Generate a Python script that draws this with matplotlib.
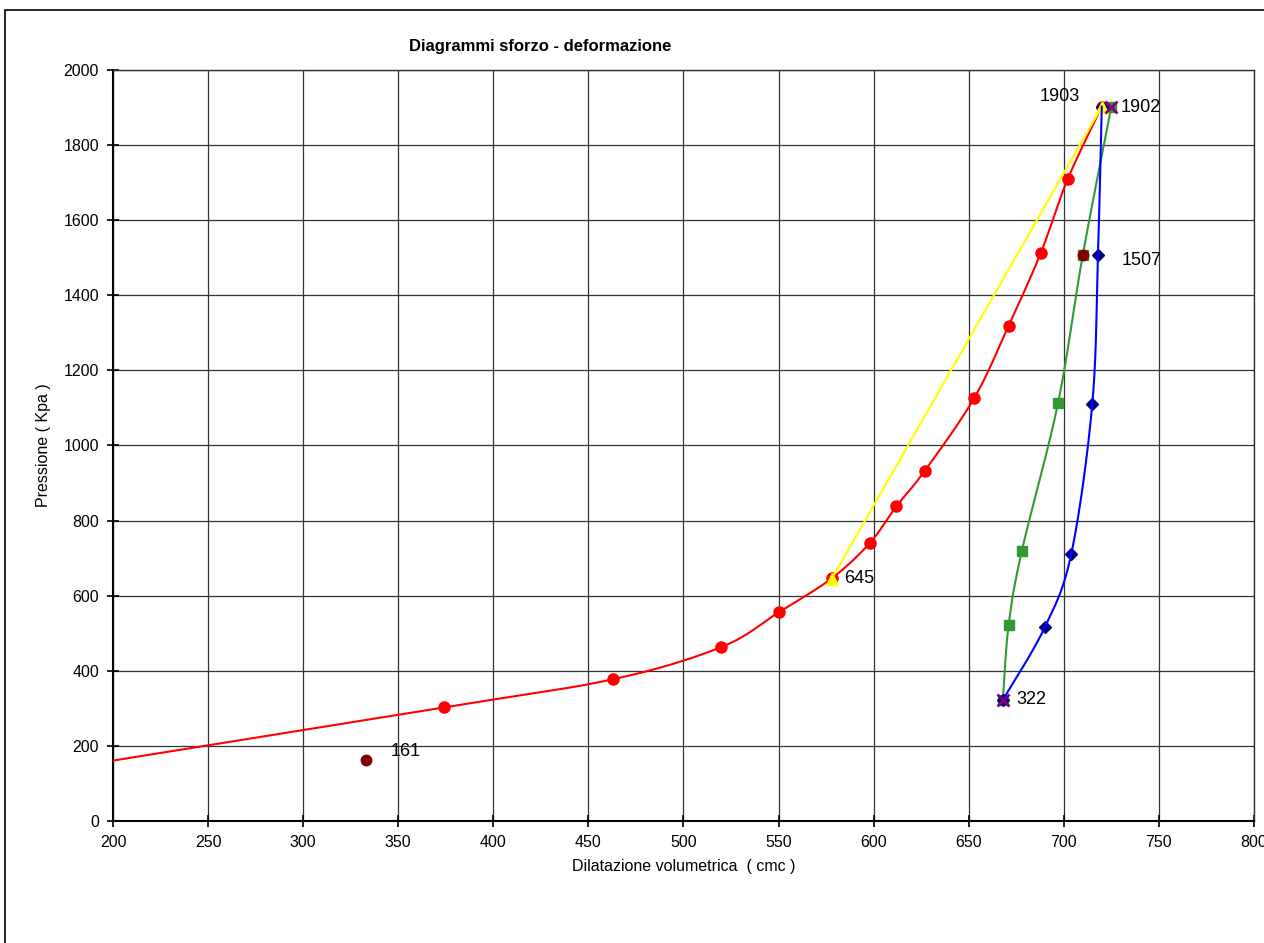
import matplotlib
matplotlib.use("Agg")
import matplotlib.pyplot as plt
import numpy as np
from matplotlib.patches import Rectangle

plt.rcParams['font.family'] = ['Liberation Sans', 'DejaVu Sans']

# red series (loading curve)
red_x = [185, 374, 463, 520, 550, 578, 598, 612, 627, 653, 671, 688, 702, 720]
red_y = [148, 302, 377, 463, 555, 646, 740, 838, 933, 1127, 1319, 1514, 1709, 1903]

# yellow straight segment
yel_x = [578, 720]
yel_y = [645, 1903]

# green series
grn_x = [668, 671, 678, 697, 710, 725]
grn_y = [322, 521, 720, 1113, 1507, 1902]

# blue series
blu_x = [668, 690, 704, 715, 718, 720]
blu_y = [322, 515, 712, 1110, 1507, 1903]

# isolated points
dred_x = [333, 710]
dred_y = [161, 1507]
purp_x = [668, 725]
purp_y = [322, 1902]

labels = [("161", 333, 161), ("645", 578, 645), ("322", 668, 322),
          ("1507", 718, 1507), ("1902", 725, 1902), ("1903", 720, 1903)]
label_offsets = {"161": (18, 6), "645": (9, 0), "322": (10, 0),
                 "1507": (17, -4), "1902": (6.5, 0), "1903": (-45, 7)}


def smooth(xs, ys, n=30):
    # Catmull-Rom, similar to Excel's smoothed line
    p = np.column_stack([xs, ys]).astype(float)
    p = np.vstack([p[0], p, p[-1]])
    out = []
    t = np.linspace(0, 1, n)
    for i in range(1, len(p) - 2):
        p0, p1, p2, p3 = p[i - 1], p[i], p[i + 1], p[i + 2]
        b1 = p1 + (p2 - p0) / 6
        b2 = p2 - (p3 - p1) / 6
        seg = ((1 - t)[:, None] ** 3 * p1 + 3 * ((1 - t) ** 2 * t)[:, None] * b1
               + 3 * ((1 - t) * t ** 2)[:, None] * b2 + (t ** 3)[:, None] * p2)
        out.append(seg)
    out = np.vstack(out)
    return out[:, 0], out[:, 1]


fig = plt.figure(figsize=(12.64, 9.43), dpi=100)
ax = fig.add_axes([0.0894, 0.1297, 0.9026, 0.7958])

fig.patches.append(Rectangle((5 / 1264, -0.05), 1.1, 0.05 + 1 - 10 / 943,
                             transform=fig.transFigure, fill=False,
                             edgecolor='black', linewidth=1.2))

sx, sy = smooth(red_x, red_y)
ax.plot(sx, sy, color='#FF0000', lw=1.5, zorder=3)
ax.plot(red_x, red_y, 'o', color='#FF0000', ms=8, zorder=4)

sx, sy = smooth(grn_x, grn_y)
ax.plot(sx, sy, color='#339933', lw=1.5, zorder=5)
ax.plot(grn_x, grn_y, 's', color='#339933', ms=7.5, zorder=6)

ax.plot(blu_x, blu_y, 'D', color='#000080', ms=6, zorder=7)

ax.plot(yel_x, yel_y, color='#FFFF00', lw=1.5, zorder=7.5)
ax.plot(yel_x, yel_y, '^', color='#FFFF00', ms=9, zorder=8)

sx, sy = smooth(blu_x, blu_y)
ax.plot(sx, sy, color='#0000FF', lw=1.5, zorder=8.5)

ax.plot(dred_x, dred_y, 'o', color='#800000', ms=7.5, zorder=9)
ax.plot(purp_x, purp_y, 'x', color='#800080', ms=8, mew=2, zorder=10)

for txt, x, y in labels:
    dx, dy = label_offsets[txt]
    ax.annotate(txt, (x, y), xytext=(dx, dy), textcoords='offset points',
                fontsize=13, ha='left', va='center', zorder=11)

ax.set_xlim(200, 800)
ax.set_ylim(0, 2000)
ax.set_xticks(np.arange(200, 801, 50))
ax.set_yticks(np.arange(0, 2001, 200))
ax.grid(True, color='#333333', linewidth=0.9)
ax.set_axisbelow(True)
ax.tick_params(direction='inout', length=8, width=1.2, labelsize=11.5, pad=6)
for s in ax.spines.values():
    s.set_linewidth(1.0)
    s.set_color('#333333')
ax.spines['left'].set_color('black')
ax.spines['bottom'].set_color('black')
ax.spines['left'].set_linewidth(1.5)
ax.spines['bottom'].set_linewidth(1.5)

ax.set_xlabel('Dilatazione volumetrica  ( cmc )', fontsize=11.5, labelpad=7)
ax.set_ylabel('Pressione ( Kpa )', fontsize=11.5, labelpad=9)
fig.text(540 / 1264, 1 - 46 / 943, 'Diagrammi sforzo - deformazione',
         fontsize=12, fontweight='bold', ha='center', va='center')

fig.savefig('out.png', dpi=100)
